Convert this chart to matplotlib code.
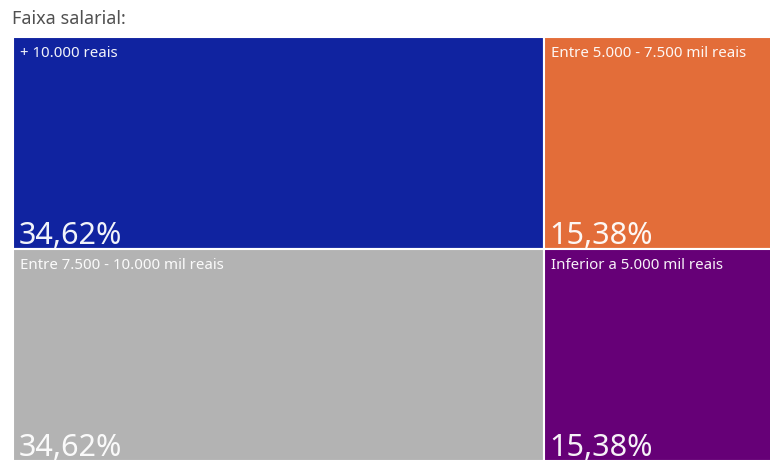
import matplotlib.pyplot as plt
from matplotlib.patches import Rectangle

# Faixas salariais e participacao (%) de cada uma
categorias = ['+ 10.000 reais', 'Entre 7.500 - 10.000 mil reais',
              'Entre 5.000 - 7.500 mil reais', 'Inferior a 5.000 mil reais']
percentuais = [34.62, 34.62, 15.38, 15.38]
cores = ['#1023A0', '#B3B3B3', '#E36D39', '#660077']
colunas = [[0, 1], [2, 3]]  # indices agrupados por coluna do treemap

plt.rcParams['font.family'] = ['Noto Sans', 'DejaVu Sans']

fig = plt.figure(figsize=(7.7, 4.62), dpi=100)
W, H = 770, 462
ax = fig.add_axes([13 / W, 1 - 461 / H, (780 - 13) / W, (461 - 37) / H])
ax.set_xlim(0, 1)
ax.set_ylim(1, 0)
ax.axis('off')

total = sum(percentuais)
x0 = 0
for col in colunas:
    soma = sum(percentuais[i] for i in col)
    largura = soma / total
    y0 = 0
    for i in col:
        altura = percentuais[i] / soma
        ax.add_patch(Rectangle((x0, y0), largura, altura, facecolor=cores[i],
                               edgecolor='white', linewidth=1.5))
        ax.annotate(categorias[i], xy=(x0, y0), xytext=(5, -6.5), textcoords='offset points',
                    ha='left', va='top', fontsize=10.8, color='white', alpha=0.95)
        rotulo = f'{percentuais[i]:.2f}'.replace('.', ',') + '%'
        ax.annotate(rotulo, xy=(x0, y0 + altura), xytext=(4, 3.5), textcoords='offset points',
                    ha='left', va='baseline', fontsize=22, color='white', alpha=0.95)
        y0 += altura
    x0 += largura

fig.text(12 / W, 1 - 19 / H, 'Faixa salarial:', ha='left', va='center',
         fontsize=13, color='#505050')

fig.savefig('out.png', dpi=100)
